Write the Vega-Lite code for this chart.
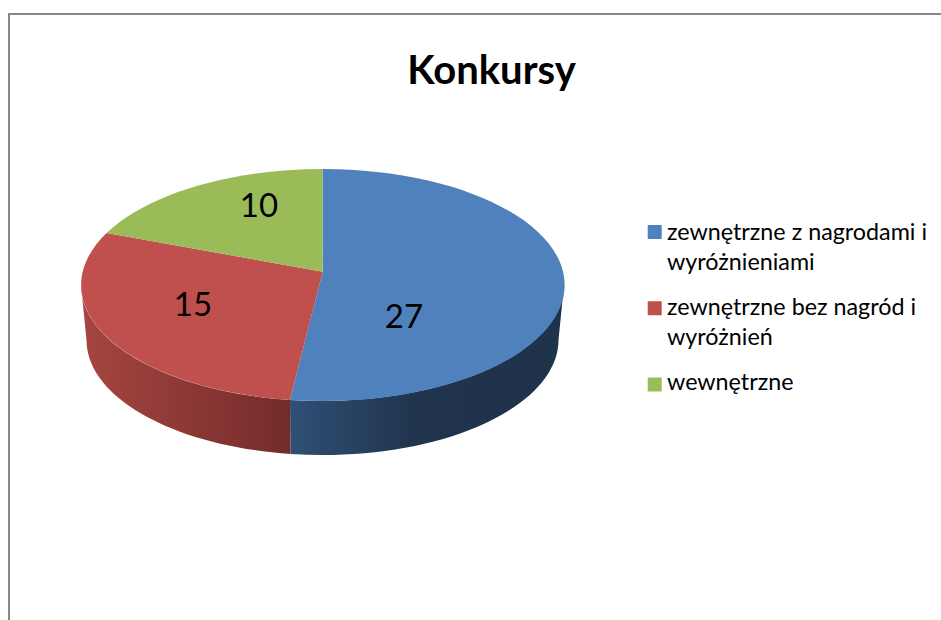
{
"$schema":"https://vega.github.io/schema/vega-lite/v6.json",
"width":933,"height":607,
"autosize":{"type":"none"},
"padding":{"left":9,"top":14,"right":0,"bottom":0},
"background":"white",
"view":{"stroke":"#868686","strokeWidth":2,"fill":"white"},
"title":{"text":"Konkursy","font":"Lato","fontWeight":"bold","fontSize":40,"color":"#000000","anchor":"middle","frame":"group","dx":16,"dy":110,"baseline":"alphabetic","offset":0},
"data":{"values":[
{"category":"zewnętrzne z nagrodami i wyróżnieniami","label":"zewnętrzne z nagrodami i\nwyróżnieniami","value":27},
{"category":"zewnętrzne bez nagród i wyróżnień","label":"zewnętrzne bez nagród i\nwyróżnień","value":15},
{"category":"wewnętrzne","label":"wewnętrzne","value":10}
]},
"encoding":{
 "x":{"datum":0.33601,"type":"quantitative","scale":{"domain":[0,1],"nice":false},"axis":null}
},
"resolve":{"scale":{"y":"independent"}},
"layer":[
{"transform":[{"filter":"datum.value==27"}],
 "mark":{"type":"point","filled":true,"opacity":1,"size":4,"shape":"M241.5,0 A241.5,116 0 0 1 -32.5,114.9 L-32,168.9 A236,115 0 0 0 236,55 Z","fill":{"x1":0,"y1":0,"x2":1,"y2":0,"gradient":"linear","stops":[{"offset":0,"color":"#2f5076"},{"offset":0.45,"color":"#20344e"},{"offset":1,"color":"#1e324a"}]}},
 "encoding":{"y":{"datum":0.44646,"type":"quantitative","scale":{"domain":[0,1],"nice":false,"reverse":true},"axis":null}}},
{"transform":[{"filter":"datum.value==15"}],
 "mark":{"type":"point","filled":true,"opacity":1,"size":4,"shape":"M-32.5,114.9 A241.5,116 0 0 1 -241.5,0 L-236,55 A236,115 0 0 0 -32,168.9 Z","fill":{"x1":0,"y1":0,"x2":1,"y2":0,"gradient":"linear","stops":[{"offset":0,"color":"#a64541"},{"offset":1,"color":"#732c2a"}]}},
 "encoding":{"y":{"datum":0.44646,"type":"quantitative","scale":{"domain":[0,1],"nice":false,"reverse":true},"axis":null}}},
{"mark":{"type":"point","filled":true,"opacity":1,"size":4},
 "encoding":{
  "y":{"datum":0.44646,"type":"quantitative","scale":{"domain":[0,1],"nice":false,"reverse":true},"axis":null},
  "color":{"field":"category","type":"nominal","sort":null,"scale":{"domain":["zewnętrzne z nagrodami i wyróżnieniami","zewnętrzne bez nagród i wyróżnień","wewnętrzne"],"range":["#4f81bd","#c0504d","#9bbb59"]},"legend":null},
  "shape":{"field":"category","type":"nominal","legend":null,"scale":{"domain":["zewnętrzne z nagrodami i wyróżnieniami","zewnętrzne bez nagród i wyróżnień","wewnętrzne"],"range":["M0.2,-13.3 L0,-116 A241.5,116 0 1 1 -32.5,114.9 Z","M0.2,-13.3 L-32.5,114.9 A241.5,116 0 0 1 -215.8,-52 Z","M0.2,-13.3 L-215.8,-52 A241.5,116 0 0 1 0,-116 Z"]}}
 }},
{"transform":[{"filter":"datum.value==27"}],
 "mark":{"type":"text","font":"Lato","fontSize":33,"color":"#000000","baseline":"alphabetic","align":"center"},
 "encoding":{"text":{"field":"value","type":"quantitative"},
  "x":{"datum":0.42337,"type":"quantitative"},
  "y":{"datum":0.5173,"type":"quantitative","scale":{"domain":[0,1],"nice":false,"reverse":true},"axis":null}}},
{"transform":[{"filter":"datum.value==15"}],
 "mark":{"type":"text","font":"Lato","fontSize":33,"color":"#000000","baseline":"alphabetic","align":"center"},
 "encoding":{"text":{"field":"value","type":"quantitative"},
  "x":{"datum":0.19721,"type":"quantitative"},
  "y":{"datum":0.49703,"type":"quantitative","scale":{"domain":[0,1],"nice":false,"reverse":true},"axis":null}}},
{"transform":[{"filter":"datum.value==10"}],
 "mark":{"type":"text","font":"Lato","fontSize":33,"color":"#000000","baseline":"alphabetic","align":"center"},
 "encoding":{"text":{"field":"value","type":"quantitative"},
  "x":{"datum":0.26795,"type":"quantitative"},
  "y":{"datum":0.33394,"type":"quantitative","scale":{"domain":[0,1],"nice":false,"reverse":true},"axis":null}}},
{"mark":{"type":"point","filled":true,"opacity":1,"shape":"square","size":196},
 "encoding":{
  "x":{"datum":0.69207,"type":"quantitative"},
  "y":{"field":"category","type":"nominal","axis":null,"scale":{"type":"point","padding":0,"domain":["zewnętrzne z nagrodami i wyróżnieniami","zewnętrzne bez nagród i wyróżnień","wewnętrzne"],"range":[218,370.5]}},
  "color":{"field":"category","type":"nominal","sort":null,"legend":null}
 }},
{"mark":{"type":"text","font":"Lato","fontSize":23.3,"color":"#000000","baseline":"alphabetic","align":"left","lineBreak":"\n","lineHeight":30},
 "encoding":{
  "text":{"field":"label","type":"nominal"},
  "x":{"datum":0.70525,"type":"quantitative"},
  "y":{"field":"category","type":"nominal","axis":null,"scale":{"type":"point","padding":0,"domain":["zewnętrzne z nagrodami i wyróżnieniami","zewnętrzne bez nagród i wyróżnień","wewnętrzne"],"range":[226,376]}}
 }}
]
}
